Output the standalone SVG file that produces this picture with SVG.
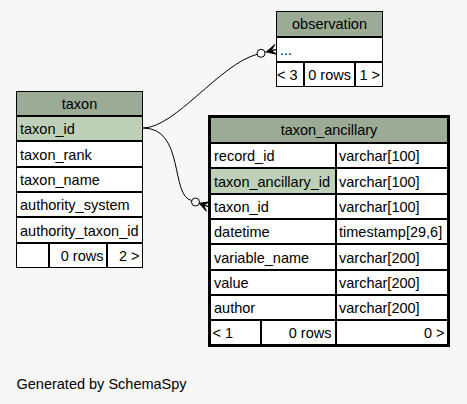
<svg xmlns="http://www.w3.org/2000/svg" width="467" height="404" viewBox="0 0 467 404">
<style>
text{font-family:"Liberation Sans",Arial,sans-serif;font-size:14.5px;fill:#000}
.c{stroke:#000;stroke-width:1}
.h{fill:#9bab96}
.k{fill:#bed1b8}
.w{fill:#fff}
.mid{text-anchor:middle}
.end{text-anchor:end}
.edge{fill:none;stroke:#000;stroke-width:1}
.dot{fill:#fff;stroke:#000;stroke-width:1}
.crow{fill:#000;stroke:#000;stroke-width:1;stroke-linejoin:miter}
</style>
<rect width="467" height="404" fill="#f7f7f7"/>

<g id="taxon">
<rect class="c h" x="16.5" y="91.5" width="126" height="24"/>
<rect class="c k" x="16.5" y="116.5" width="126" height="24"/>
<rect class="c w" x="16.5" y="141.5" width="126" height="25"/>
<rect class="c w" x="16.5" y="167.5" width="126" height="24"/>
<rect class="c w" x="16.5" y="192.5" width="126" height="24"/>
<rect class="c w" x="16.5" y="217.5" width="126" height="25"/>
<rect class="c w" x="16.5" y="243.5" width="32" height="24"/>
<rect class="c w" x="49.5" y="243.5" width="57" height="24"/>
<rect class="c w" x="107.5" y="243.5" width="35" height="24"/>
<text class="mid" x="79.5" y="109">taxon</text>
<text x="20" y="134">taxon_id</text>
<text x="20" y="159.5">taxon_rank</text>
<text x="20" y="185">taxon_name</text>
<text x="20" y="210">authority_system</text>
<text x="20" y="235.5">authority_taxon_id</text>
<text class="end" x="103.5" y="261">0 rows</text>
<text class="end" x="139.5" y="261">2 &gt;</text>
</g>

<g id="observation">
<rect class="c h" x="276.5" y="11.5" width="106" height="25"/>
<rect class="c w" x="276.5" y="37.5" width="106" height="24"/>
<rect class="c w" x="276.5" y="62.5" width="27" height="24"/>
<rect class="c w" x="304.5" y="62.5" width="50" height="24"/>
<rect class="c w" x="355.5" y="62.5" width="27" height="24"/>
<text class="mid" x="329.5" y="29">observation</text>
<text x="280" y="55">...</text>
<text x="277" y="80">&lt; 3</text>
<text class="end" x="351" y="80">0 rows</text>
<text class="end" x="380" y="80">1 &gt;</text>
</g>

<g id="taxon_ancillary">
<rect x="209" y="116" width="240" height="230" fill="none" stroke="#000" stroke-width="2"/>
<rect class="c h" x="210.5" y="117.5" width="237" height="25"/>
<rect class="c w" x="210.5" y="143.5" width="125" height="24"/>
<rect class="c w" x="336.5" y="143.5" width="111" height="24"/>
<rect class="c k" x="210.5" y="168.5" width="125" height="25"/>
<rect class="c w" x="336.5" y="168.5" width="111" height="25"/>
<rect class="c w" x="210.5" y="194.5" width="125" height="24"/>
<rect class="c w" x="336.5" y="194.5" width="111" height="24"/>
<rect class="c w" x="210.5" y="219.5" width="125" height="24"/>
<rect class="c w" x="336.5" y="219.5" width="111" height="24"/>
<rect class="c w" x="210.5" y="244.5" width="125" height="25"/>
<rect class="c w" x="336.5" y="244.5" width="111" height="25"/>
<rect class="c w" x="210.5" y="270.5" width="125" height="24"/>
<rect class="c w" x="336.5" y="270.5" width="111" height="24"/>
<rect class="c w" x="210.5" y="295.5" width="125" height="24"/>
<rect class="c w" x="336.5" y="295.5" width="111" height="24"/>
<rect class="c w" x="210.5" y="320.5" width="50" height="24"/>
<rect class="c w" x="261.5" y="320.5" width="74" height="24"/>
<rect class="c w" x="336.5" y="320.5" width="111" height="24"/>
<text class="mid" x="329" y="135">taxon_ancillary</text>
<text x="214" y="161">record_id</text>
<text x="339" y="161">varchar[100]</text>
<text x="214" y="186.5">taxon_ancillary_id</text>
<text x="339" y="186.5">varchar[100]</text>
<text x="214" y="212">taxon_id</text>
<text x="339" y="212">varchar[100]</text>
<text x="214" y="237">datetime</text>
<text x="339" y="237">timestamp[29,6]</text>
<text x="214" y="262.5">variable_name</text>
<text x="339" y="262.5">varchar[200]</text>
<text x="214" y="288">value</text>
<text x="339" y="288">varchar[200]</text>
<text x="214" y="313">author</text>
<text x="339" y="313">varchar[200]</text>
<text x="212.5" y="338">&lt; 1</text>
<text class="end" x="331.5" y="338">0 rows</text>
<text class="end" x="444.5" y="338">0 &gt;</text>
</g>

<g id="connectors">
<path class="edge" d="M143,128 C175,128 220,64 257.1,54.3"/>
<line class="edge" x1="264.9" y1="52.3" x2="266.3" y2="51.9"/>
<circle class="dot" cx="261" cy="53.3" r="4"/>
<polygon class="crow" points="266.3,51.9 276.6,54.2 271.1,50.7 276,49.5 271.1,50.7 274.8,44.6"/>
<path class="edge" d="M143,128 C185,128 170,196 191.7,200.6"/>
<circle class="dot" cx="195.5" cy="202" r="4"/>
<polygon class="crow" points="199.2,203.3 206.3,211.2 203.7,204.9 208,206.5 203.7,204.9 209.7,201.8"/>
</g>

<text x="16.5" y="389">Generated by SchemaSpy</text>
</svg>
